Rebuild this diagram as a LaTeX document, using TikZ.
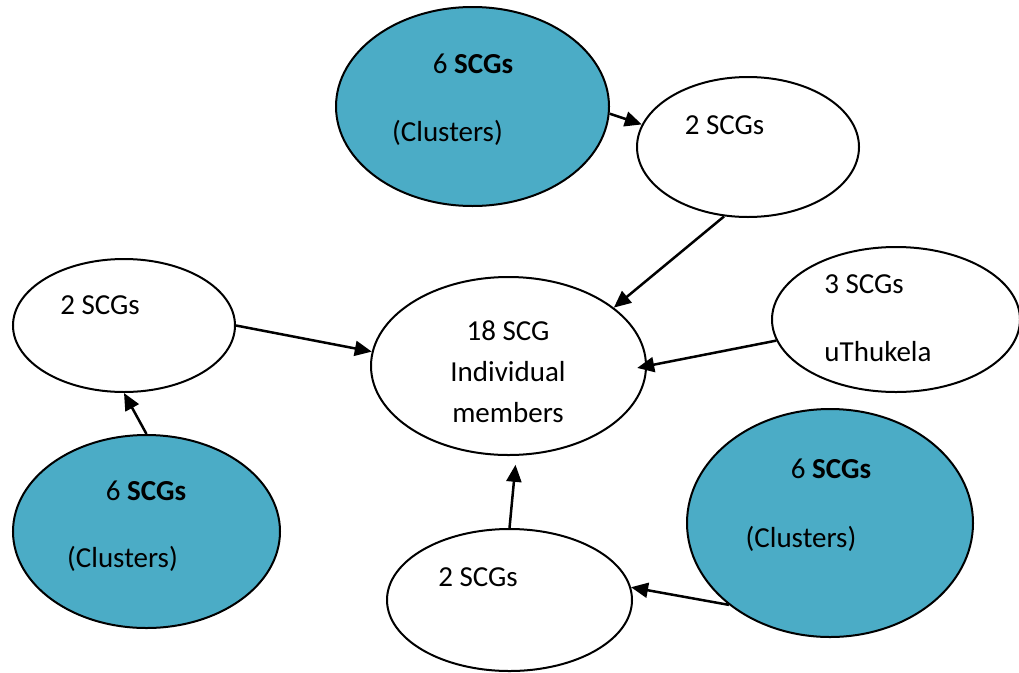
\documentclass[tikz,border=0pt]{standalone}
\usepackage{fontspec}
\setmainfont{Carlito}
\usetikzlibrary{arrows.meta,shapes.geometric}
\definecolor{tealfive}{HTML}{4BACC6}
\begin{document}
\begin{tikzpicture}[x=1pt,y=-1pt,
  bub/.style={ellipse,draw=black,line width=2pt,inner sep=0pt},
  whitebub/.style={bub,fill=white},
  tealbub/.style={bub,fill=tealfive},
  lbl/.style={anchor=base,inner sep=0pt,font=\fontsize{29}{35}\selectfont},
  arr/.style={line width=2.5pt,-{Triangle[length=17pt,width=15pt]}}]
\useasboundingbox[fill=white] (0,0) rectangle (1019,672);

% ellipses
\node[tealbub,minimum width=273pt,minimum height=199pt] (T6) at (472.5,106.5) {};
\node[whitebub,minimum width=222pt,minimum height=140pt] (T2) at (748,147) {};
\node[whitebub,minimum width=275pt,minimum height=178pt] (C) at (508.5,366) {};
\node[whitebub,minimum width=222pt,minimum height=133pt] (L2) at (124,325.5) {};
\node[whitebub,minimum width=248pt,minimum height=145pt] (R3) at (896,319.5) {};
\node[tealbub,minimum width=267pt,minimum height=193pt] (BL6) at (146.5,531.5) {};
\node[whitebub,minimum width=245pt,minimum height=142pt] (B2) at (509.5,600) {};
\node[tealbub,minimum width=286pt,minimum height=228pt] (BR6) at (830,523) {};

% labels
\node[lbl] (t6a) at (473,73) {6 \textbf{SCGs}};
\node[lbl] (t6b) at (447.5,141) {(Clusters)};
\node[lbl] (t2a) at (724.5,134) {2 SCGs};
\node[lbl] (ca) at (508,340) {18 SCG};
\node[lbl] (cb) at (508,381) {Individual};
\node[lbl] (cc) at (508,422) {members};
\node[lbl] (l2a) at (100,314) {2 SCGs};
\node[lbl] (r3a) at (864,293) {3 SCGs};
\node[lbl] (r3b) at (878,361) {uThukela};
\node[lbl] (bl6a) at (146,500) {6 \textbf{SCGs}};
\node[lbl] (bl6b) at (122.5,567) {(Clusters)};
\node[lbl] (b2a) at (478,586) {2 SCGs};
\node[lbl] (br6a) at (831,478) {6 \textbf{SCGs}};
\node[lbl] (br6b) at (801,547) {(Clusters)};

% connectors
\draw[arr] (T6.-3.6) -- (T2.168.2);
\draw[arr] (T2.-109.9) -- (C.29.7);
\draw[arr] (L2.0) -- (C.174.4);
\draw[arr] (BL6.90) -- (L2.-90);
\draw[arr,shorten >=-10pt] (R3.-170.9) -- (C.0.4);
\draw[arr,shorten >=9pt] (B2.90) -- (C.-85.2);
\draw[arr] (BR6.-141.9) -- (B2.6);
\end{tikzpicture}
\end{document}
